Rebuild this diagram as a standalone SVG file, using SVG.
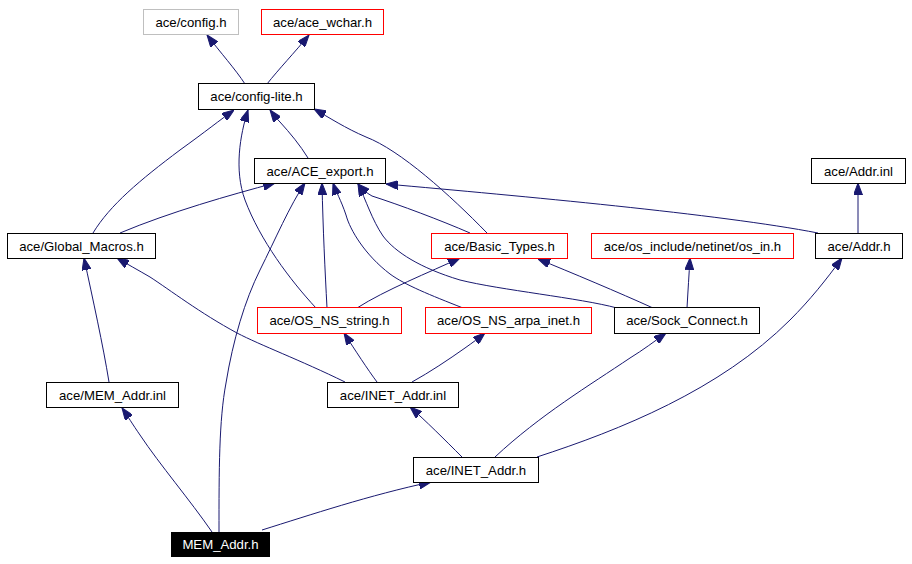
<svg xmlns="http://www.w3.org/2000/svg" width="912" height="564" viewBox="0 0 912 564">
<style>
.n rect{fill:#fff;stroke:#000;stroke-width:1}
.n.red rect{stroke:#ff0000}
.n.gray rect{stroke:#bfbfbf}
.n.cur rect{fill:#000;stroke:#000}
.n text{font-family:"Liberation Sans",Arial,sans-serif;font-size:13.2px;text-anchor:middle;fill:#000}
.n.cur text{fill:#fff}
#edges path{fill:none;stroke:#191970;stroke-width:1;marker-end:url(#arr)}
</style>
<defs>
<marker id="arr" viewBox="0 0 12 9" refX="12" refY="4.5" markerWidth="12" markerHeight="9" orient="auto" markerUnits="userSpaceOnUse">
<path d="M0,0 L12,4.5 L0,9 z" fill="#191970" stroke="#191970" stroke-width="1"/>
</marker>
</defs>
<rect width="912" height="564" fill="#fff"/>
<g id="edges">
<path d="M245,84 C236,70 220,52 207,35"/>
<path d="M267,84 C278,70 295,52 309,35"/>
<path d="M308,158 C300,145 290,133 280,122 C276,118 273,114 270,110"/>
<path d="M93,233 C110,205 140,180 180,150 C205,132 220,120 234,110"/>
<path d="M120,233 C170,212 230,195 275,183"/>
<path d="M316,308 C290,280 260,240 245,200 C234,170 240,135 248,110"/>
<path d="M327,308 C325,270 323,230 322,183"/>
<path d="M357,308 C385,290 430,272 460,258"/>
<path d="M487,233 C450,195 400,150 366,137 C345,128 330,118 314,109"/>
<path d="M470,233 C440,220 400,205 372,196 C366,193 362,188 358,184"/>
<path d="M463,308 C430,295 405,285 390,274 C365,255 350,230 346,215 C341,200 336,192 333,183"/>
<path d="M617,308 C580,298 500,290 460,280 C420,268 395,252 383,236 C372,220 366,200 358,184"/>
<path d="M653,308 C620,293 570,272 538,259"/>
<path d="M687,308 C688,290 689,275 690,258"/>
<path d="M818,233 C720,214 520,196 386,184"/>
<path d="M858,233 L858,183"/>
<path d="M109,382 C103,345 93,300 84,258"/>
<path d="M345,382 C300,360 260,345 237,333 C200,313 170,290 150,277 C138,270 127,264 117,258"/>
<path d="M377,382 C368,370 355,350 344,333"/>
<path d="M412,382 C430,372 448,360 465,348 C472,343 479,338 485,333"/>
<path d="M462,457 C445,440 425,420 410,407"/>
<path d="M495,457 C540,415 590,385 630,358 C643,350 655,341 666,333"/>
<path d="M537,457 C620,430 720,390 790,320 C810,300 826,280 842,258"/>
<path d="M212,532 C190,500 160,465 140,435 C133,425 127,415 122,408"/>
<path d="M219,532 C219,470 219,420 226,383 C233,340 245,300 260,270 C275,240 290,205 305,183"/>
<path d="M262,530 C310,515 370,495 431,482"/>
</g>
<g id="config_h" class="n gray"><rect x="143.5" y="9.5" width="95" height="25"/><text x="191" y="26.5">ace/config.h</text></g>
<g id="ace_wchar_h" class="n red"><rect x="261.5" y="9.5" width="122" height="25"/><text x="322.5" y="26.5">ace/ace_wchar.h</text></g>
<g id="config_lite_h" class="n"><rect x="198.5" y="83.5" width="116" height="26"/><text x="256.5" y="101">ace/config-lite.h</text></g>
<g id="ACE_export_h" class="n"><rect x="254.5" y="158.5" width="131" height="25"/><text x="320" y="175.5">ace/ACE_export.h</text></g>
<g id="Addr_inl" class="n"><rect x="811.5" y="158.5" width="94" height="25"/><text x="858.5" y="175.5">ace/Addr.inl</text></g>
<g id="Global_Macros_h" class="n"><rect x="7.5" y="233.5" width="148" height="25"/><text x="81.5" y="250.5">ace/Global_Macros.h</text></g>
<g id="Basic_Types_h" class="n red"><rect x="431.5" y="233.5" width="136" height="25"/><text x="499.5" y="250.5">ace/Basic_Types.h</text></g>
<g id="os_in_h" class="n red"><rect x="591.5" y="233.5" width="202" height="25"/><text x="692.5" y="250.5">ace/os_include/netinet/os_in.h</text></g>
<g id="Addr_h" class="n"><rect x="815.5" y="233.5" width="87" height="25"/><text x="859" y="250.5">ace/Addr.h</text></g>
<g id="OS_NS_string_h" class="n red"><rect x="257.5" y="307.5" width="144" height="26"/><text x="329.5" y="325">ace/OS_NS_string.h</text></g>
<g id="OS_NS_arpa_inet_h" class="n red"><rect x="425.5" y="307.5" width="166" height="26"/><text x="508.5" y="325">ace/OS_NS_arpa_inet.h</text></g>
<g id="Sock_Connect_h" class="n"><rect x="614.5" y="307.5" width="145" height="26"/><text x="687" y="325">ace/Sock_Connect.h</text></g>
<g id="MEM_Addr_inl" class="n"><rect x="46.5" y="382.5" width="132" height="25"/><text x="112.5" y="399.5">ace/MEM_Addr.inl</text></g>
<g id="INET_Addr_inl" class="n"><rect x="327.5" y="382.5" width="131" height="25"/><text x="393" y="399.5">ace/INET_Addr.inl</text></g>
<g id="INET_Addr_h" class="n"><rect x="413.5" y="457.5" width="125" height="25"/><text x="476" y="474.5">ace/INET_Addr.h</text></g>
<g id="MEM_Addr_h" class="n cur"><rect x="171.5" y="532.5" width="98" height="24"/><text x="220.5" y="549">MEM_Addr.h</text></g>
</svg>
